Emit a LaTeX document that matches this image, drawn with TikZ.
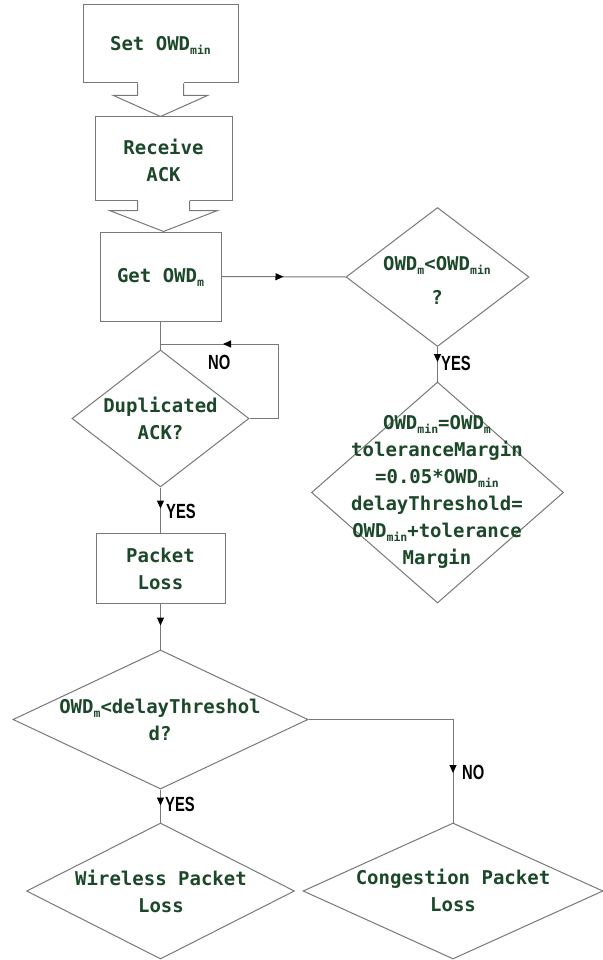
\documentclass[tikz,border=0pt]{standalone}
\usepackage{fontspec}
\usepackage{graphicx}
\usetikzlibrary{shapes.geometric,arrows.meta,decorations.markings,calc}
\newfontfamily\tfont{DejaVu Sans Mono}
\newfontfamily\lfont{Liberation Sans}
\definecolor{tc}{RGB}{28,72,42}
\definecolor{lc}{RGB}{120,120,120}
\newcommand\sbs[1]{\raisebox{-4pt}{\fontsize{11.5}{11.5}\selectfont #1}}
\newcommand\yn[1]{\scalebox{0.72}[1]{#1}}
\begin{document}
\begin{tikzpicture}[x=1pt,y=-1pt,
 box/.style={draw=lc,line width=1pt,rectangle,inner sep=0},
 dia/.style={draw=lc,line width=1pt,diamond,inner sep=0},
 txt/.style={text=tc,font=\fontsize{19}{27}\selectfont\tfont\bfseries,align=center,inner sep=0},
 lab/.style={font=\fontsize{20.5}{20.5}\selectfont\lfont\bfseries,inner sep=0,anchor=west},
 conn/.style={draw=lc,line width=1pt},
 mk/.style={postaction={decorate,decoration={markings,mark=at position #1 with {\arrow[black]{Triangle[length=8pt,width=7pt]}}}}},
]
\fill[white] (0,0) rectangle (602,960);
\useasboundingbox (0,0) rectangle (602,960);

% boxes
\node[box,minimum width=155pt,minimum height=78pt] (set) at (160.5,44) {};
\node[txt] (settx) at (160.5,45) {Set OWD\sbs{min}};
\node[box,minimum width=137pt,minimum height=83pt] (recv) at (163.5,158.5) {};
\node[txt] (recvtx) at (163.5,160) {Receive\\ACK};
\node[box,minimum width=121pt,minimum height=89pt] (get) at (160.5,276.5) {};
\node[txt] (gettx) at (160.5,277.5) {Get OWD\sbs{m}};
\node[box,minimum width=129pt,minimum height=70pt] (pl) at (160.5,568) {};
\node[txt] (pltx) at (160.5,568.5) {Packet\\Loss};

% diamonds
\node[dia,minimum width=183pt,minimum height=139pt] (d1) at (437.5,277) {};
\node[txt] (d1tx) at (437,280) {OWD\sbs{m}<OWD\sbs{min}\\[7pt]?};
\node[dia,minimum width=252pt,minimum height=221pt] (d2) at (437.5,492.5) {};
\node[txt] (d2tx) at (437,492) {OWD\sbs{min}=OWD\sbs{m}\\toleranceMargin\\=0.05*OWD\sbs{min}\\delayThreshold=\\OWD\sbs{min}+tolerance\\Margin};
\node[dia,minimum width=177pt,minimum height=137pt] (dup) at (160.5,418.5) {};
\node[txt] (duptx) at (160.5,418) {Duplicated\\ACK?};
\node[dia,minimum width=295pt,minimum height=139pt] (d3) at (160.5,719.5) {};
\node[txt] (d3tx) at (160,720) {OWD\sbs{m}<delayThreshol\\d?};
\node[dia,minimum width=268pt,minimum height=136pt] (d4) at (160.5,891) {};
\node[txt] (d4tx) at (161,891) {Wireless Packet\\Loss};
\node[dia,minimum width=300pt,minimum height=136pt] (d5) at (453,891) {};
\node[txt] (d5tx) at (453,890.5) {Congestion Packet\\Loss};

% block arrows
\fill[white] ($(set.south)+(-23,-1.5)$) rectangle ($(set.south)+(23,1.5)$);
\draw[conn,line join=miter] ($(set.south)+(-23,0)$) -- ++(0,12) -- ++(-24,0)
  -- (set.south |- recv.north) -- ($(set.south)+(47,12)$) -- ++(-24,0) -- ++(0,-12);
\fill[white] ($(recv.south)+(-26,-1.5)$) rectangle ($(recv.south)+(26,1.5)$);
\draw[conn,line join=miter] ($(recv.south)+(-26,0)$) -- ++(0,10) -- ++(-28,0)
  -- (recv.south |- get.north) -- ($(recv.south)+(54,10)$) -- ++(-28,0) -- ++(0,-10);

% connectors
\coordinate (lp) at (278,344);
\draw[conn] (get.south) -- (dup.north);
\draw[conn,mk=62pt] (get.east) -- (d1.west);
\draw[conn,mk=15pt] (d1.south) -- (d2.north);
\draw[conn,mk=158pt] (dup.east) -| (lp) -- (get.south |- lp);
\draw[conn,mk=21pt] (dup.south) -- (pl.north);
\draw[conn,mk=22pt] (pl.south) -- (d3.north);
\draw[conn,mk=16pt] (d3.south) -- (d4.north);
\draw[conn,mk=198pt] (d3.east) -| (d5.north);

% labels
\node[lab] (y1) at (441,363) {\yn{YES}};
\node[lab] (n1) at (208,362) {\yn{NO}};
\node[lab] (y2) at (166,511) {\yn{YES}};
\node[lab] (y3) at (165,804) {\yn{YES}};
\node[lab] (n2) at (462,772) {\yn{NO}};
\end{tikzpicture}
\end{document}
